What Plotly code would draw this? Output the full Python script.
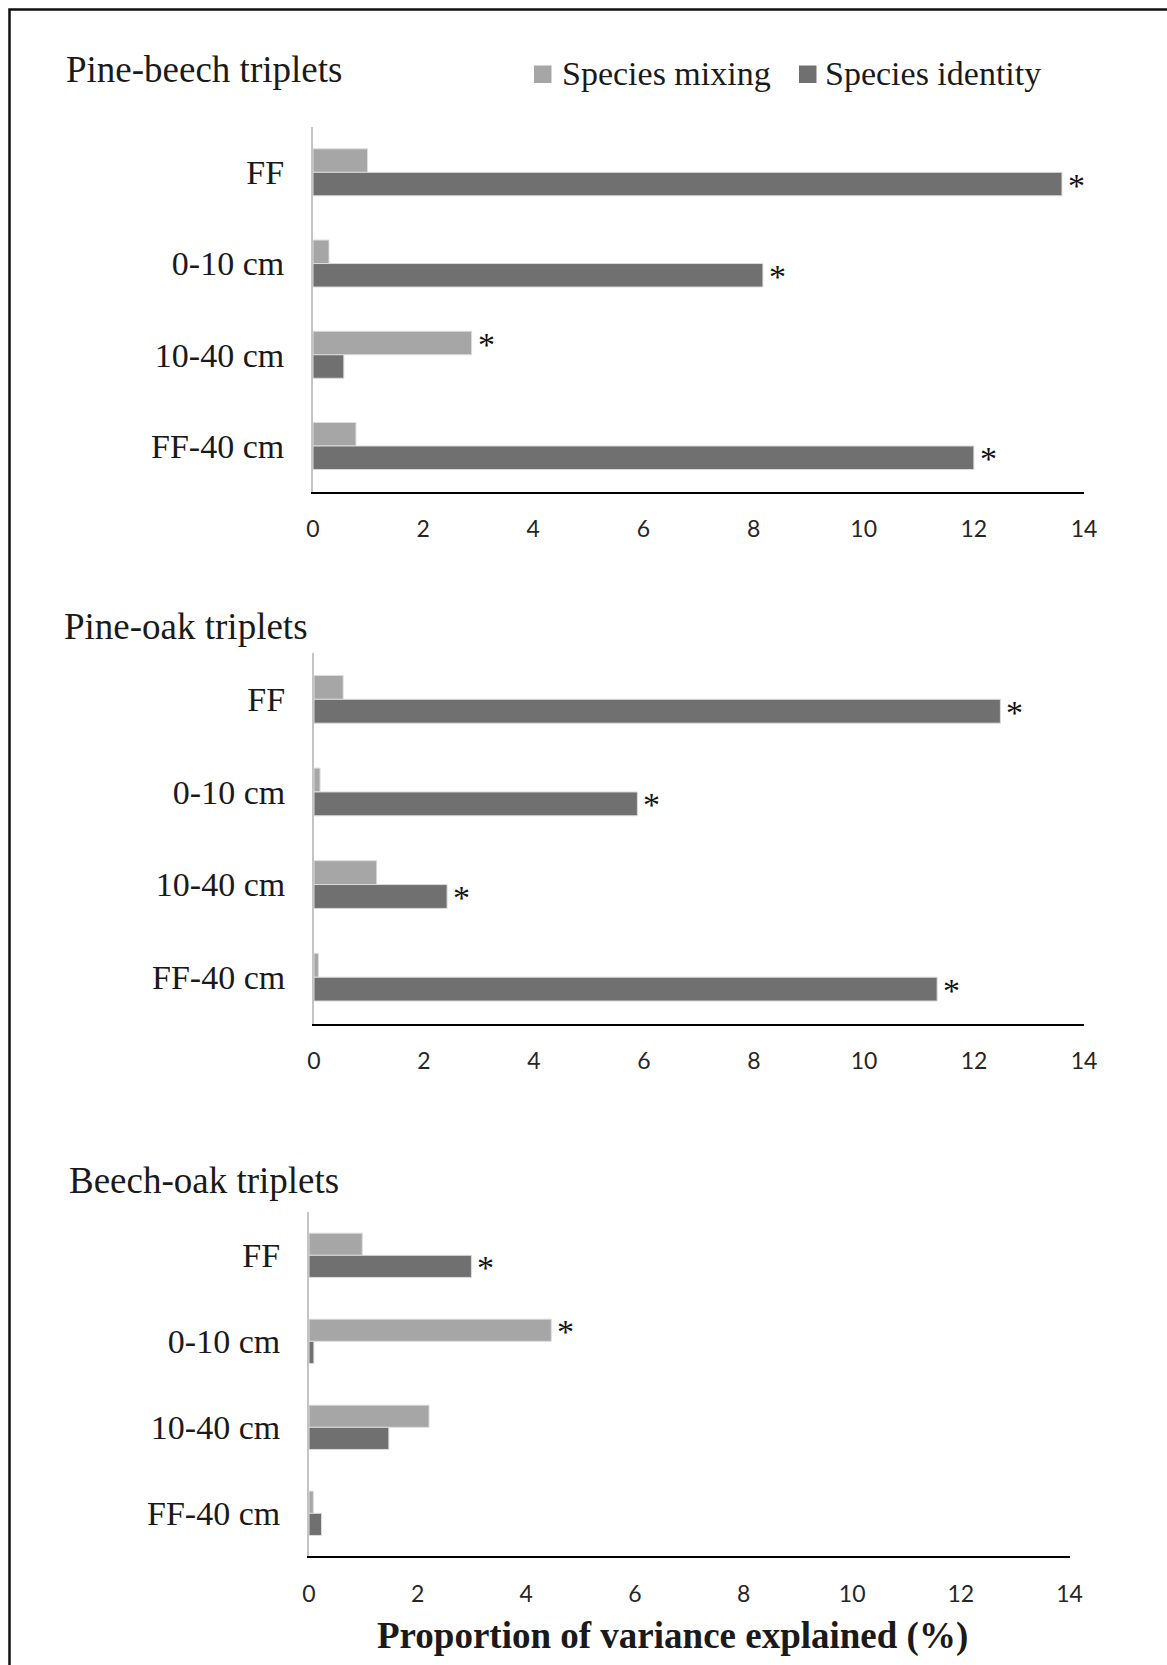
import plotly.graph_objects as go

# ---- data -------------------------------------------------------------
depths = ["FF", "0-10 cm", "10-40 cm", "FF-40 cm"]
panel_titles = ["Pine-beech triplets", "Pine-oak triplets", "Beech-oak triplets"]
series_names = ["Species mixing", "Species identity"]

# proportion of variance explained (%) per depth, one list per panel
pine_beech_mixing = [0.99, 0.29, 2.88, 0.78]
pine_beech_identity = [13.6, 8.17, 0.56, 12.0]
pine_oak_mixing = [0.53, 0.11, 1.14, 0.08]
pine_oak_identity = [12.48, 5.88, 2.42, 11.33]
beech_oak_mixing = [0.98, 4.46, 2.21, 0.08]
beech_oak_identity = [2.99, 0.09, 1.47, 0.23]

# significant effects (*)
pine_beech_mixing_sig = [False, False, True, False]
pine_beech_identity_sig = [True, True, False, True]
pine_oak_mixing_sig = [False, False, False, False]
pine_oak_identity_sig = [True, True, True, True]
beech_oak_mixing_sig = [False, True, False, False]
beech_oak_identity_sig = [True, False, False, False]

x_ticks = [0, 2, 4, 6, 8, 10, 12, 14]
x_title = "Proportion of variance explained (%)"

# ---- styling ----------------------------------------------------------
W, H = 1167, 1665
MIX_COLOR = "#a6a6a6"
ID_COLOR = "#707070"
SERIF = "Liberation Serif"
SANS = "Lato"
BARGAP = 0.485

panels = [
    dict(mix=pine_beech_mixing, ide=pine_beech_identity,
         mix_sig=pine_beech_mixing_sig, ide_sig=pine_beech_identity_sig,
         x=(313, 1084), y=(126.7, 491.6), title_xy=(64, 69)),
    dict(mix=pine_oak_mixing, ide=pine_oak_identity,
         mix_sig=pine_oak_mixing_sig, ide_sig=pine_oak_identity_sig,
         x=(314, 1084), y=(653, 1023.5), title_xy=(62, 627)),
    dict(mix=beech_oak_mixing, ide=beech_oak_identity,
         mix_sig=beech_oak_mixing_sig, ide_sig=beech_oak_identity_sig,
         x=(309, 1069.5), y=(1212.3, 1556.3), title_xy=(67, 1180)),
]


def px_x(v):
    return v / W


def px_y(v):
    return 1 - v / H


fig = go.Figure()
annotations = []
shapes = []
ypos = list(range(len(depths)))
half = (1 - BARGAP) / 4  # centre offset of each bar within a group

for i, p in enumerate(panels, start=1):
    xa = "x" if i == 1 else f"x{i}"
    ya = "y" if i == 1 else f"y{i}"
    for name, vals, color in ((series_names[0], p["mix"], MIX_COLOR),
                              (series_names[1], p["ide"], ID_COLOR)):
        fig.add_trace(go.Bar(
            x=vals, y=ypos, orientation="h", name=name,
            marker=dict(color=color, line=dict(color="#dcdcdc", width=1)),
            xaxis=xa, yaxis=ya, showlegend=False,
        ))

    axis_suffix = "" if i == 1 else str(i)
    fig.update_layout({
        f"xaxis{axis_suffix}": dict(
            domain=[px_x(p["x"][0]), px_x(p["x"][1])],
            anchor=ya, range=[0, 14], tickvals=x_ticks,
            showgrid=False, zeroline=False,
            showline=True, linecolor="#000000", linewidth=2,
            ticks="", ticklabelstandoff=16, automargin=False,
            tickfont=dict(family=SANS, size=23, color="#262626"),
        ),
        f"yaxis{axis_suffix}": dict(
            domain=[px_y(p["y"][1]), px_y(p["y"][0])],
            anchor=xa, range=[3.5, -0.5],
            tickvals=ypos, ticktext=depths,
            showgrid=False, zeroline=False,
            showline=True, linecolor="#c4c4c4", linewidth=2,
            ticks="", ticklabelstandoff=20, automargin=False,
            tickfont=dict(family=SERIF, size=34, color="#1a1a1a"),
        ),
    })

    # panel heading
    annotations.append(dict(
        text=panel_titles[i - 1], xref="paper", yref="paper",
        x=px_x(p["title_xy"][0]), y=px_y(p["title_xy"][1]),
        xanchor="left", yanchor="middle", showarrow=False,
        font=dict(family=SERIF, size=37, color="#1a1a1a"),
    ))

    # significance stars at the end of the bars
    for vals, sig, off in ((p["mix"], p["mix_sig"], -half),
                           (p["ide"], p["ide_sig"], half)):
        for k, (v, s) in enumerate(zip(vals, sig)):
            if s:
                annotations.append(dict(
                    text="*", xref=xa, yref=ya, x=v, y=k + off,
                    xanchor="left", yanchor="middle", showarrow=False,
                    xshift=4, yshift=-1,
                    font=dict(family=SERIF, size=34, color="#111111"),
                ))

# key: grey swatches with series names, top right of the first panel
legend_items = [(series_names[0], MIX_COLOR, 534, 560),
                (series_names[1], ID_COLOR, 799, 823)]
for label, color, sx, tx in legend_items:
    shapes.append(dict(
        type="rect", xref="paper", yref="paper",
        x0=px_x(sx), x1=px_x(sx + 17.5), y0=px_y(83), y1=px_y(65.5),
        fillcolor=color, line=dict(width=0),
    ))
    annotations.append(dict(
        text=label, xref="paper", yref="paper",
        x=px_x(tx), y=px_y(74), xanchor="left", yanchor="middle",
        showarrow=False, font=dict(family=SERIF, size=34, color="#1a1a1a"),
    ))

# shared x-axis title under the last panel
annotations.append(dict(
    text=f"<b>{x_title}</b>", xref="paper", yref="paper",
    x=px_x(672), y=px_y(1636), xanchor="center", yanchor="middle",
    showarrow=False, font=dict(family=SERIF, size=37, color="#1a1a1a"),
))

# frame around the figure (top and left edges)
frame_left, frame_top = 9.5 / W, 1 - 9.5 / H
shapes.append(dict(
    type="path", xref="paper", yref="paper",
    path=f"M {frame_left},-0.01 L {frame_left},{frame_top} L 1.01,{frame_top}",
    line=dict(color="#111111", width=2.5),
))

fig.update_layout(
    width=W, height=H, autosize=False,
    margin=dict(l=0, r=0, t=0, b=0, pad=0, autoexpand=False),
    paper_bgcolor="white", plot_bgcolor="white",
    barmode="group", bargap=BARGAP, bargroupgap=0,
    annotations=annotations, shapes=shapes, showlegend=False,
)

fig.write_html(
    "out.html",
    post_script="document.body.style.margin='0';document.body.style.overflow='hidden';",
)
